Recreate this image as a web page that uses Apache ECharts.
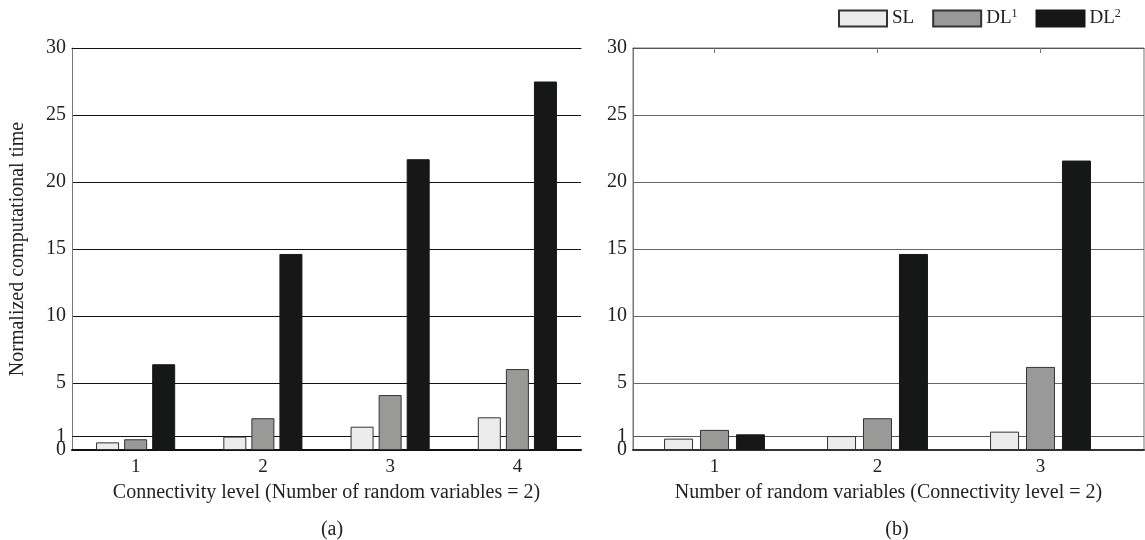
<!DOCTYPE html>
<html>
<head>
<meta charset="utf-8">
<script src="https://cdn.jsdelivr.net/npm/echarts@6/dist/echarts.min.js"></script>
<style>
  html, body { margin: 0; padding: 0; background: #fff; }
  #chart { width: 1145px; height: 540px; }
</style>
</head>
<body>
<div id="chart"></div>
<script>
// Panel (a): connectivity level, 2 random variables
const connectivityLevels = ['1', '2', '3', '4'];
const slA  = [0.57, 1.0, 1.74, 2.44];
const dl1A = [0.8, 2.37, 4.1, 6.04];
const dl2A = [6.4, 14.63, 21.7, 27.5];

// Panel (b): number of random variables, connectivity level 2
const randomVariableCounts = [1, 2, 3];
const slB  = [0.85, 1.04, 1.37];
const dl1B = [1.5, 2.37, 6.2];
const dl2B = [1.17, 14.63, 21.6];

// Y tick labels every 5; the extra reference level 1 is labelled by its own line
const yTickLabels = [0, 5, 10, 15, 20, 25, 30];
const unitLevel = 1;

const FONT = '"Liberation Serif", "DejaVu Serif", serif';
const TXT = '#222';
const colors = { SL: '#ebeceb', DL1: '#999a98', DL2: '#161817' };

const chart = echarts.init(document.getElementById('chart'), null, { renderer: 'canvas' });

function yAxisFor(gridIndex, gridColor) {
  return {
    type: 'value', gridIndex, min: 0, max: 30, interval: 5,
    axisLine: { show: true, lineStyle: { color: '#777', width: 1 } },
    axisTick: { show: false },
    axisLabel: {
      customValues: yTickLabels, color: TXT, fontFamily: FONT, fontSize: 20, margin: 6,
      hideOverlap: false, showMinLabel: true, showMaxLabel: true
    },
    splitLine: { show: true, lineStyle: { color: gridColor, width: 1 } }
  };
}

// Horizontal line at y = 1 with its label on the axis side
function unitLine(color) {
  return {
    silent: true, symbol: 'none', z: 1,
    label: {
      show: true, position: 'start', distance: 6, formatter: String(unitLevel),
      color: TXT, fontFamily: FONT, fontSize: 20, padding: [0, 0, 5, 0]
    },
    lineStyle: { color, width: 1, type: 'solid' },
    data: [{ yAxis: unitLevel }]
  };
}

function barSeries(name, xi, yi, data, width, gap, extra) {
  return Object.assign({
    name, type: 'bar', xAxisIndex: xi, yAxisIndex: yi, data,
    barWidth: width, barGap: gap, z: 2,
    itemStyle: {
      color: colors[name],
      borderColor: name === 'DL2' ? '#161817' : '#333',
      borderWidth: 1
    }
  }, extra || {});
}

const legendRich = { s: { fontSize: 12, fontFamily: FONT, color: TXT, verticalAlign: 'top', padding: [0, 0, 9, 0] } };

const nameStyle = { color: TXT, fontFamily: FONT, fontSize: 20 };

const option = {
  backgroundColor: '#fff',
  animation: false,
  title: [
    { text: '(a)', left: 327, top: 515, textAlign: 'center',
      textStyle: { fontFamily: FONT, fontSize: 20, fontWeight: 'normal', color: TXT } },
    { text: '(b)', left: 892, top: 515, textAlign: 'center',
      textStyle: { fontFamily: FONT, fontSize: 20, fontWeight: 'normal', color: TXT } }
  ],
  legend: {
    left: 838, top: 8, padding: 0,
    itemWidth: 48, itemHeight: 16, itemGap: 18,
    icon: 'rect',
    data: ['SL', 'DL1', 'DL2'],
    formatter: n => n === 'SL' ? 'SL' : 'DL{s|' + n.slice(2) + '}',
    textStyle: { fontFamily: FONT, fontSize: 19, color: TXT, width: 37, rich: legendRich }
  },
  grid: [
    { left: 72, top: 48, width: 509, height: 402 },
    { left: 633, top: 48, width: 511, height: 402, show: true, borderColor: '#777', borderWidth: 1, backgroundColor: 'transparent' }
  ],
  xAxis: [
    {
      type: 'category', gridIndex: 0, position: 'bottom', data: connectivityLevels,
      axisLine: { lineStyle: { color: '#111', width: 2 } },
      axisTick: { inside: true, alignWithLabel: true, length: 5, lineStyle: { color: '#666' } },
      axisLabel: { color: TXT, fontFamily: FONT, fontSize: 19, margin: 8 },
      name: 'Connectivity level (Number of random variables = 2)',
      nameLocation: 'middle', nameGap: 33, nameTextStyle: nameStyle
    },
    {
      type: 'category', gridIndex: 0, position: 'top', data: connectivityLevels,
      axisLine: { show: true, lineStyle: { color: '#111', width: 1 } },
      axisTick: { inside: true, alignWithLabel: true, length: 5, lineStyle: { color: '#666' } },
      axisLabel: { show: false }
    },
    {
      type: 'value', gridIndex: 1, position: 'bottom', min: 0.5, max: 3.635,
      axisLine: { lineStyle: { color: '#333', width: 2 } },
      axisTick: { inside: true, length: 5, customValues: randomVariableCounts, lineStyle: { color: '#666' } },
      axisLabel: { customValues: randomVariableCounts, color: TXT, fontFamily: FONT, fontSize: 19, margin: 8 },
      splitLine: { show: false },
      name: 'Number of random variables (Connectivity level = 2)',
      nameLocation: 'middle', nameGap: 33, nameTextStyle: nameStyle
    },
    {
      type: 'value', gridIndex: 1, position: 'top', min: 0.5, max: 3.635,
      axisLine: { show: true, lineStyle: { color: '#555', width: 1 } },
      axisTick: { inside: true, length: 5, customValues: randomVariableCounts, lineStyle: { color: '#777' } },
      axisLabel: { show: false },
      splitLine: { show: false }
    }
  ],
  yAxis: [
    Object.assign(yAxisFor(0, '#111'), {
      name: 'Normalized computational time', nameLocation: 'middle', nameGap: 44,
      nameTextStyle: nameStyle
    }),
    yAxisFor(1, '#666')
  ],
  series: [
    barSeries('SL', 0, 0, slA, 23, '22%', { markLine: unitLine('#111') }),
    barSeries('DL1', 0, 0, dl1A, 23, '22%'),
    barSeries('DL2', 0, 0, dl2A, 23, '22%'),
    barSeries('SL', 2, 1, randomVariableCounts.map((x, i) => [x, slB[i]]), 29, '24%', { markLine: unitLine('#555') }),
    barSeries('DL1', 2, 1, randomVariableCounts.map((x, i) => [x, dl1B[i]]), 29, '24%'),
    barSeries('DL2', 2, 1, randomVariableCounts.map((x, i) => [x, dl2B[i]]), 29, '24%')
  ]
};

chart.setOption(option);
</script>
</body>
</html>
